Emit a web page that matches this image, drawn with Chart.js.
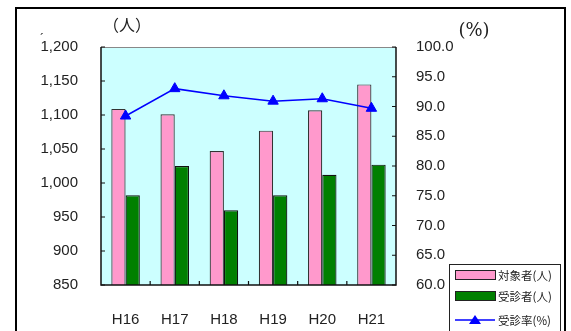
<!DOCTYPE html>
<html lang="ja">
<head>
<meta charset="UTF-8">
<title>健診受診率の推移</title>
<script src="https://cdn.jsdelivr.net/npm/chart.js"></script>
<style>
  html, body { margin: 0; padding: 0; background: #fff; }
  #wrap { width: 571px; height: 331px; position: relative; }
</style>
</head>
<body>
<div id="wrap"><canvas id="kenshinChart" width="571" height="331"></canvas></div>
<script>
// 年度と各系列の値
const years = ['H16', 'H17', 'H18', 'H19', 'H20', 'H21'];
const taishosha = [1109, 1101, 1047, 1077, 1107, 1145];   // 対象者(人)
const jushinsha = [982, 1025, 960, 982, 1012, 1027];      // 受診者(人)
const jushinritsu = [88.4, 93.0, 91.8, 90.9, 91.3, 89.7]; // 受診率(%)
const seriesNames = ['対象者(人)', '受診者(人)', '受診率(%)'];

const jpFont = '"Noto Sans CJK JP", sans-serif';
const numFont = '"Liberation Sans", Arial, sans-serif';

// 外枠・背景・目盛り線・凡例を描く
const framePlugin = {
    id: 'framePlugin',
    beforeDraw(chart) {
        const { ctx, chartArea: a } = chart;
        ctx.save();
        ctx.fillStyle = '#fff';
        ctx.fillRect(0, 0, chart.width, chart.height);
        ctx.strokeStyle = '#000';
        ctx.lineWidth = 2;
        ctx.strokeRect(16, 8, 549, 340);
        ctx.fillStyle = '#ccffff';
        ctx.fillRect(a.left, a.top, a.right - a.left, a.bottom - a.top);
        ctx.restore();
    },
    afterDatasetsDraw(chart) {
        const { ctx, chartArea: a, scales } = chart;
        ctx.save();
        // 枠線
        ctx.strokeStyle = '#888';
        ctx.lineWidth = 1;
        ctx.beginPath();
        ctx.moveTo(a.left, a.top + 0.5);
        ctx.lineTo(a.right, a.top + 0.5);
        ctx.stroke();
        ctx.strokeStyle = '#111';
        ctx.lineWidth = 1.5;
        ctx.beginPath();
        ctx.moveTo(a.left, a.top);
        ctx.lineTo(a.left, a.bottom);
        ctx.lineTo(a.right, a.bottom);
        ctx.lineTo(a.right, a.top);
        ctx.stroke();
        // 内向きの目盛り
        ctx.lineWidth = 1.2;
        ctx.beginPath();
        scales.y.ticks.forEach(t => {
            const y = scales.y.getPixelForValue(t.value);
            ctx.moveTo(a.left, y);
            ctx.lineTo(a.left + 4, y);
        });
        scales.y1.ticks.forEach(t => {
            const y = scales.y1.getPixelForValue(t.value);
            ctx.moveTo(a.right - 4, y);
            ctx.lineTo(a.right, y);
        });
        for (let i = 0; i < years.length - 1; i++) {
            const x = (scales.x.getPixelForValue(i) + scales.x.getPixelForValue(i + 1)) / 2;
            ctx.moveTo(x, a.bottom);
            ctx.lineTo(x, a.bottom - 4);
        }
        ctx.stroke();
        ctx.restore();
    },
    afterDraw(chart) {
        const { ctx } = chart;
        const ds = chart.data.datasets;
        ctx.save();
        // 軸の単位
        ctx.fillStyle = '#222';
        ctx.font = '16px ' + jpFont;
        ctx.textAlign = 'center';
        ctx.textBaseline = 'middle';
        ctx.fillText('（人）', 127, 25);
        ctx.font = '18px "DejaVu Serif", serif';
        ctx.fillText('(%)', 474, 31);
        ctx.font = '12px ' + numFont;
        ctx.fillText('´', 42, 40);

        // 凡例
        const lx = 449, ly = 264;
        ctx.fillStyle = '#fff';
        ctx.fillRect(lx, ly, 111, 75);
        ctx.strokeStyle = '#222';
        ctx.lineWidth = 1;
        ctx.strokeRect(lx + 0.5, ly + 0.5, 111, 75);
        ctx.beginPath();
        ctx.rect(lx, ly, 110, 75);
        ctx.clip();
        const rows = [275, 296, 320];
        ctx.textAlign = 'left';
        ctx.font = '11.5px ' + jpFont;
        ds.forEach((d, i) => {
            const cy = rows[i];
            if (d.type === 'line') {
                ctx.strokeStyle = d.borderColor;
                ctx.lineWidth = 1.5;
                ctx.beginPath();
                ctx.moveTo(455, cy);
                ctx.lineTo(495, cy);
                ctx.stroke();
                ctx.fillStyle = d.pointBackgroundColor;
                ctx.beginPath();
                ctx.moveTo(475, cy - 5);
                ctx.lineTo(481, cy + 4);
                ctx.lineTo(469, cy + 4);
                ctx.closePath();
                ctx.fill();
            } else {
                ctx.fillStyle = d.backgroundColor;
                ctx.fillRect(455, cy - 4.5, 40, 9);
                ctx.strokeStyle = '#222';
                ctx.strokeRect(455.5, cy - 4.5, 40, 9);
            }
            ctx.fillStyle = '#222';
            ctx.fillText(d.label, 498, cy + 1);
        });
        ctx.restore();
    }
};

const ctx = document.getElementById('kenshinChart').getContext('2d');
new Chart(ctx, {
    data: {
        labels: years,
        datasets: [
            {
                type: 'bar',
                label: seriesNames[0],
                data: taishosha,
                backgroundColor: '#ff99cc',
                borderColor: '#333',
                borderWidth: 1.2,
                yAxisID: 'y',
                order: 1
            },
            {
                type: 'bar',
                label: seriesNames[1],
                data: jushinsha,
                backgroundColor: '#008000',
                borderColor: '#111',
                borderWidth: 1.2,
                yAxisID: 'y',
                order: 1
            },
            {
                type: 'line',
                label: seriesNames[2],
                data: jushinritsu,
                borderColor: '#0000ff',
                borderWidth: 1.5,
                pointStyle: 'triangle',
                pointRadius: 6,
                pointBackgroundColor: '#0000ff',
                pointBorderColor: '#0000ff',
                pointBorderWidth: 1,
                tension: 0,
                yAxisID: 'y1',
                order: 0
            }
        ]
    },
    options: {
        responsive: false,
        animation: false,
        devicePixelRatio: 1,
        layout: { padding: { top: 47, left: 0, right: 0, bottom: 0 } },
        datasets: {
            bar: { categoryPercentage: 0.58, barPercentage: 1 }
        },
        plugins: {
            legend: { display: false },
            tooltip: { enabled: false },
            title: { display: false }
        },
        scales: {
            x: {
                offset: true,
                grid: { display: false },
                border: { display: false },
                ticks: {
                    padding: 18,
                    color: '#222',
                    font: { family: numFont, size: 15 }
                },
                afterFit: s => { s.height = 46; }
            },
            y: {
                position: 'left',
                min: 850,
                max: 1200,
                grid: { display: false },
                border: { display: false },
                ticks: {
                    stepSize: 50,
                    padding: 15,
                    color: '#222',
                    font: { family: numFont, size: 15 },
                    callback: v => v.toLocaleString('en-US')
                },
                afterFit: s => { s.width = 101; }
            },
            y1: {
                position: 'right',
                min: 60,
                max: 100,
                grid: { display: false },
                border: { display: false },
                ticks: {
                    stepSize: 5,
                    padding: 12,
                    color: '#222',
                    font: { family: numFont, size: 15 },
                    callback: v => v.toFixed(1)
                },
                afterFit: s => { s.width = 175; }
            }
        }
    },
    plugins: [framePlugin]
});
</script>
</body>
</html>
